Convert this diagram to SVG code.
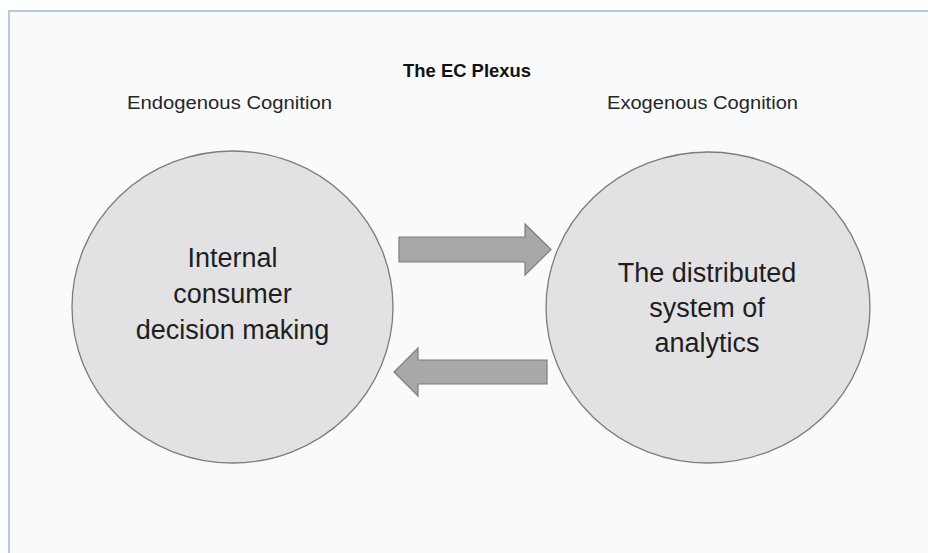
<svg xmlns="http://www.w3.org/2000/svg" width="928" height="553" viewBox="0 0 928 553">
  <style>
    .node { fill: #e2e2e4; stroke: #7c7c7c; stroke-width: 1.3; }
    .arrow { fill: #a9a7aa; stroke: #7d7d7f; stroke-width: 1.2; }
    .lbl { font-family: "Liberation Sans", Arial, sans-serif; fill: #1e1e1e; text-anchor: middle; }
    .big { font-size: 27px; }
    .sub { font-size: 18px; fill: #262626; }
    .title { font-size: 18px; font-weight: bold; fill: #111; }
  </style>
  <rect x="0" y="0" width="928" height="553" fill="#ffffff"/>
  <rect x="9" y="11" width="940" height="560" fill="#f9fafc" stroke="#b7cbdf" stroke-width="2"/>

  <g id="title">
    <text class="lbl title" x="467" y="77" textLength="128" lengthAdjust="spacingAndGlyphs">The EC Plexus</text>
  </g>
  <g id="label-endogenous">
    <text class="lbl sub" x="229.5" y="109" textLength="205" lengthAdjust="spacingAndGlyphs">Endogenous Cognition</text>
  </g>
  <g id="label-exogenous">
    <text class="lbl sub" x="702.5" y="109" textLength="191" lengthAdjust="spacingAndGlyphs">Exogenous Cognition</text>
  </g>

  <g id="connectors">
    <polygon class="arrow" points="399,237 525,237 525,224 551,249.5 525,275 525,262 399,262"/>
    <polygon class="arrow" points="547,360 418,360 418,348 394,372 418,396 418,384 547,384"/>
  </g>

  <g id="node-internal">
    <ellipse class="node" cx="232.5" cy="307" rx="160.5" ry="156"/>
    <text class="lbl big" x="232.5" y="267">Internal</text>
    <text class="lbl big" x="232.5" y="303">consumer</text>
    <text class="lbl big" x="232.5" y="339">decision making</text>
  </g>

  <g id="node-distributed">
    <ellipse class="node" cx="708" cy="307.5" rx="162" ry="155.5"/>
    <text class="lbl big" x="707" y="282">The distributed</text>
    <text class="lbl big" x="707" y="317">system of</text>
    <text class="lbl big" x="707" y="352">analytics</text>
  </g>
</svg>
